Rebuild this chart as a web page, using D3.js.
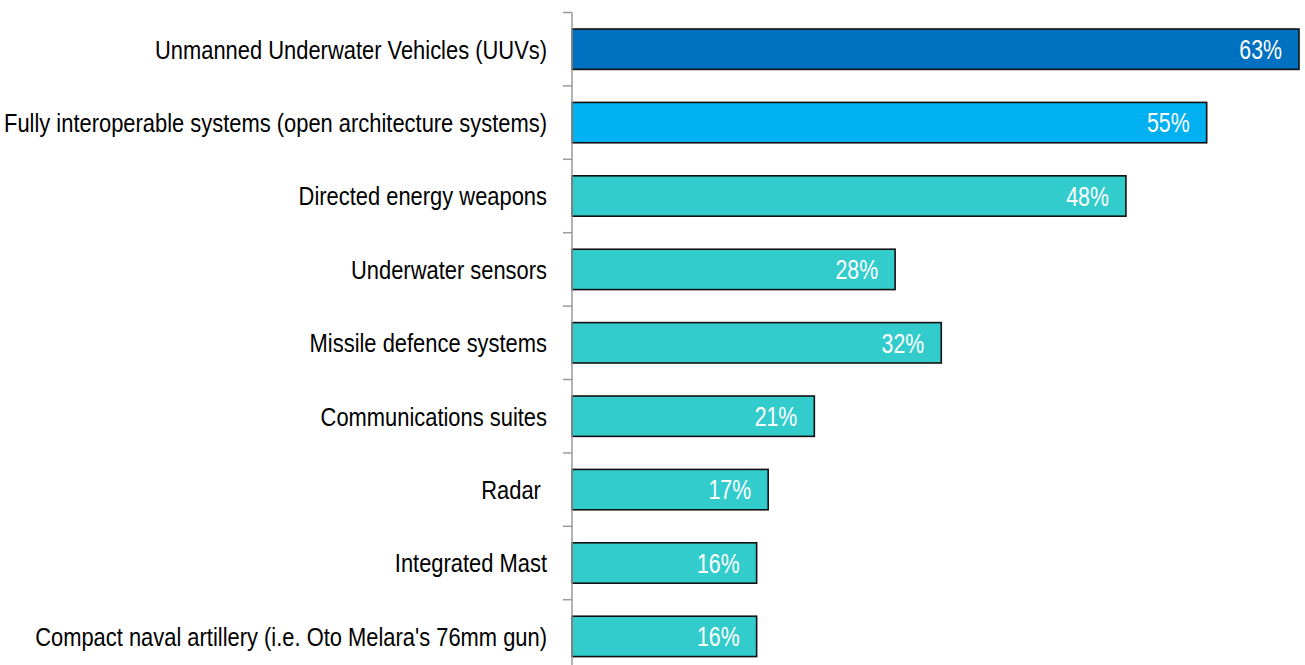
<!DOCTYPE html>
<html>
<head>
<meta charset="utf-8">
<script src="https://cdn.jsdelivr.net/npm/d3@7"></script>
<style>
  html, body { margin: 0; padding: 0; background: #fff; }
  svg { display: block; }
  text { font-family: "Liberation Sans Narrow", "Arial Narrow", "Liberation Sans", Arial, sans-serif; }
</style>
</head>
<body>
<svg id="chart" width="1305" height="665"></svg>
<script>
// Technology categories, top to bottom
const categories = [
  "Unmanned Underwater Vehicles (UUVs)",
  "Fully interoperable systems (open architecture systems)",
  "Directed energy weapons",
  "Underwater sensors",
  "Missile defence systems",
  "Communications suites",
  "Radar ",
  "Integrated Mast",
  "Compact naval artillery (i.e. Oto Melara's 76mm gun)"
];
// Share of respondents (%)
const values = [63, 55, 48, 28, 32, 21, 17, 16, 16];
// Bar fill per category
const barColors = ["#0070C0", "#00B0F0", "#33CCCC", "#33CCCC", "#33CCCC", "#33CCCC", "#33CCCC", "#33CCCC", "#33CCCC"];

const svg = d3.select("#chart");
const axisX = 572;
// Horizontal squeeze giving the narrow typeface look
const labelSqueeze = 0.843;
const valueSqueeze = 0.79;

const x = d3.scaleLinear().domain([0, 63]).range([axisX, 1299]);
const y = d3.scaleBand()
  .domain(categories)
  .range([12.5, 673.1])
  .paddingInner(0.45)
  .paddingOuter(0.225);

const step = y.step();
const gap = step * y.paddingInner() / 2;
const cy = d => y(d) + y.bandwidth() / 2;

// Bars
svg.append("g")
  .selectAll("rect")
  .data(categories)
  .join("rect")
  .attr("x", x(0))
  .attr("y", d => y(d))
  .attr("width", (d, i) => x(values[i]) - x(0))
  .attr("height", y.bandwidth())
  .attr("fill", (d, i) => barColors[i])
  .attr("stroke", "#111")
  .attr("stroke-width", 1.6);

// Value labels inside the bar ends
svg.append("g")
  .selectAll("text")
  .data(categories)
  .join("text")
  .attr("transform", (d, i) => `translate(${x(values[i]) - 17},${cy(d)}) scale(${valueSqueeze},1)`)
  .attr("dy", "0.36em")
  .attr("text-anchor", "end")
  .attr("fill", "#fff")
  .attr("font-size", 27)
  .text((d, i) => values[i] + "%");

// Category axis: vertical line with ticks between categories
const axis = svg.append("g").attr("stroke", "#9a9a9a").attr("stroke-width", 1.5);
const tickYs = categories.map(d => y(d) - gap).concat([y(categories[categories.length - 1]) + y.bandwidth() + gap]);
axis.append("line")
  .attr("x1", axisX).attr("x2", axisX)
  .attr("y1", tickYs[0]).attr("y2", 665);
axis.selectAll("line.tick")
  .data(tickYs)
  .join("line")
  .attr("class", "tick")
  .attr("x1", axisX - 9).attr("x2", axisX)
  .attr("y1", d => d).attr("y2", d => d);

// Category labels
svg.append("g")
  .selectAll("text")
  .data(categories)
  .join("text")
  .attr("transform", d => `translate(547,${cy(d)}) scale(${labelSqueeze},1)`)
  .attr("dy", "0.36em")
  .attr("text-anchor", "end")
  .attr("fill", "#000")
  .attr("font-size", 26)
  .attr("xml:space", "preserve")
  .style("white-space", "pre")
  .text(d => d);
</script>
</body>
</html>
